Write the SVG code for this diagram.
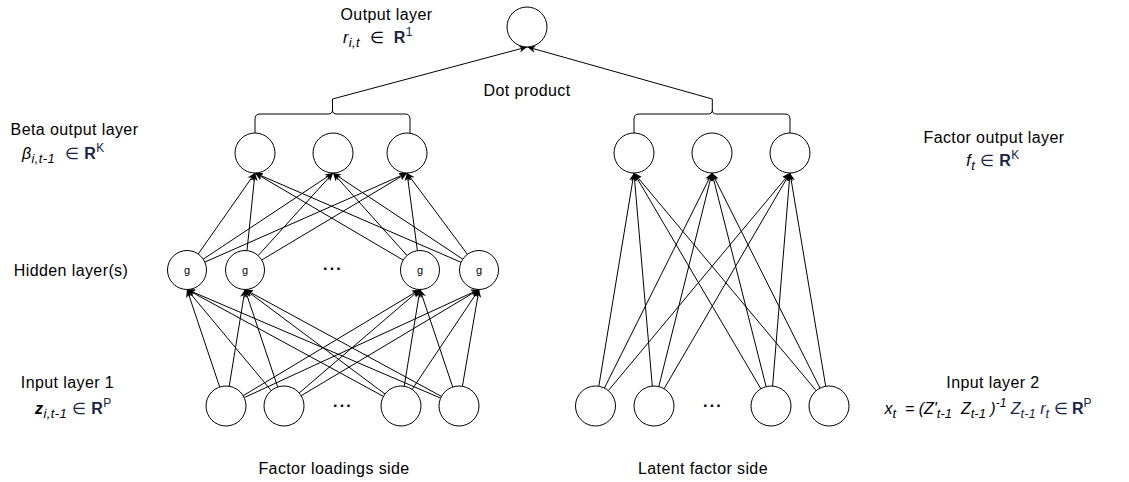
<svg xmlns="http://www.w3.org/2000/svg" width="1129" height="482" viewBox="0 0 1129 482">
<style>
text{font-family:"Liberation Sans",Arial,sans-serif;font-size:16px;fill:#000;letter-spacing:0.4px}
.i{font-style:italic}
.b{font-weight:bold}
.sub{font-size:13px}
.sup{font-size:12px}
.nv{fill:#172448}
.tight{letter-spacing:0}
.g{font-size:11px;letter-spacing:0}
.dots{font-weight:bold;font-size:16px;letter-spacing:2.2px}
circle{fill:#fff;stroke:#000;stroke-width:1}
.e line{stroke:#000;stroke-width:1;marker-end:url(#arr)}
.br{fill:none;stroke:#000;stroke-width:1}
</style>
<defs>
<marker id="arr" viewBox="0 0 10 10" refX="10" refY="5" markerWidth="8" markerHeight="8" markerUnits="userSpaceOnUse" orient="auto">
<path d="M0,0.5 L10,5 L0,9.5 L3,5 Z" fill="#000"/>
</marker>
</defs>

<g id="labels">
<text x="386.5" y="20" text-anchor="middle">Output layer</text>
<text x="343" y="43"><tspan class="i">r</tspan><tspan class="i sub" dy="4">i,t</tspan><tspan dy="-4">&#160; ∈ &#160;</tspan><tspan class="b nv">R</tspan><tspan class="sup nv" dy="-7">1</tspan></text>
<text x="527" y="96" text-anchor="middle">Dot product</text>
<text x="74.5" y="135" text-anchor="middle">Beta output layer</text>
<text x="22" y="159"><tspan class="i">β</tspan><tspan class="i sub" dy="4">i,t-1</tspan><tspan dy="-4" class="nv">&#160; ∈ </tspan><tspan class="b nv">R</tspan><tspan class="sup nv" dy="-7">K</tspan></text>
<text x="994" y="143" text-anchor="middle">Factor output layer</text>
<text x="993" y="166" text-anchor="middle"><tspan class="i">f</tspan><tspan class="i sub" dy="4">t</tspan><tspan dy="-4" class="nv"> ∈ </tspan><tspan class="b nv">R</tspan><tspan class="sup nv" dy="-7">K</tspan></text>
<text x="71" y="276" text-anchor="middle">Hidden layer(s)</text>
<text x="67.5" y="388" text-anchor="middle">Input layer 1</text>
<text x="35" y="414"><tspan class="b i">z</tspan><tspan class="i sub" dy="4">i,t-1</tspan><tspan dy="-4" class="nv"> ∈ </tspan><tspan class="b nv">R</tspan><tspan class="sup nv" dy="-7">P</tspan></text>
<text x="993" y="388" text-anchor="middle">Input layer 2</text>
<text class="tight" x="988" y="414" text-anchor="middle"><tspan class="i">x</tspan><tspan class="i sub" dy="4">t</tspan><tspan class="i" dy="-4">&#160; = (Z'</tspan><tspan class="i sub" dy="4">t-1</tspan><tspan class="i" dy="-4">&#160; Z</tspan><tspan class="i sub" dy="4">t-1</tspan><tspan class="i" dy="-4"> )</tspan><tspan class="i sup" dy="-7">-1</tspan><tspan class="i nv" dy="7"> Z</tspan><tspan class="i sub nv" dy="4">t-1</tspan><tspan class="i nv" dy="-4"> r</tspan><tspan class="i sub nv" dy="4">t</tspan><tspan dy="-4" class="nv"> ∈ </tspan><tspan class="b nv">R</tspan><tspan class="sup nv" dy="-7">P</tspan></text>
<text x="334" y="474" text-anchor="middle">Factor loadings side</text>
<text x="703" y="474" text-anchor="middle">Latent factor side</text>
</g>

<g id="connectors">
<g id="braces">
<path class="br" d="M255,133 L255,119 Q255,114 260,114 L328,114 Q332.5,114 332.5,110 L332.5,99 M332.5,110 Q332.5,114 337,114 L405,114 Q410,114 410,119 L410,133.3"/>
<path class="br" d="M634,133 L634,119 Q634,114 639,114 L708,114 Q712.3,114 712.3,110 L712.3,99 M712.3,110 Q712.3,114 716.6,114 L785,114 Q790,114 790,119 L790,133"/>
</g>
<g class="e">
<line x1="332.5" y1="99" x2="527" y2="47"/>
<line x1="712.3" y1="99" x2="527.5" y2="47"/>
<!-- hidden -> beta -->
<line x1="198.2" y1="254" x2="255" y2="173"/>
<line x1="203.2" y1="259.2" x2="333" y2="173"/>
<line x1="204.8" y1="262.1" x2="407" y2="173"/>
<line x1="247" y1="250.6" x2="255" y2="173"/>
<line x1="258.1" y1="255.6" x2="333" y2="173"/>
<line x1="261.7" y1="260" x2="407" y2="173"/>
<line x1="403.2" y1="260.1" x2="255" y2="173"/>
<line x1="407" y1="255.5" x2="333" y2="173"/>
<line x1="417.4" y1="250.7" x2="407" y2="173"/>
<line x1="461.1" y1="262.3" x2="255" y2="173"/>
<line x1="462.8" y1="259.2" x2="333" y2="173"/>
<line x1="467.4" y1="254.3" x2="407" y2="173"/>
<!-- input1 -> hidden -->
<line x1="219.7" y1="387" x2="187" y2="289.5"/>
<line x1="229.2" y1="386.3" x2="245" y2="289.5"/>
<line x1="243.1" y1="395.7" x2="420" y2="289.5"/>
<line x1="244.2" y1="397.6" x2="479" y2="289.5"/>
<line x1="271.2" y1="390.6" x2="187" y2="289.5"/>
<line x1="277.7" y1="387" x2="245" y2="289.5"/>
<line x1="299.2" y1="393" x2="420" y2="289.5"/>
<line x1="301.2" y1="395.7" x2="479" y2="289.5"/>
<line x1="383.4" y1="396.4" x2="187" y2="289.5"/>
<line x1="385" y1="394" x2="245" y2="289.5"/>
<line x1="404.2" y1="386.3" x2="420" y2="289.5"/>
<line x1="412.1" y1="389.4" x2="479" y2="289.5"/>
<line x1="440.6" y1="398.1" x2="187" y2="289.5"/>
<line x1="441.4" y1="396.4" x2="245" y2="289.5"/>
<line x1="452.7" y1="387" x2="420" y2="289.5"/>
<line x1="462.4" y1="386.3" x2="479" y2="289.5"/>
<!-- input2 -> factor -->
<line x1="598.8" y1="386.3" x2="634" y2="173"/>
<line x1="604.4" y1="388.1" x2="712" y2="173"/>
<line x1="608.3" y1="390.6" x2="790" y2="173"/>
<line x1="652.3" y1="386.1" x2="634" y2="173"/>
<line x1="658.8" y1="386.6" x2="712" y2="173"/>
<line x1="664.1" y1="388.7" x2="790" y2="173"/>
<line x1="760.9" y1="388.8" x2="634" y2="173"/>
<line x1="766.1" y1="386.6" x2="712" y2="173"/>
<line x1="772.6" y1="386.1" x2="790" y2="173"/>
<line x1="816.2" y1="390.7" x2="634" y2="173"/>
<line x1="820" y1="388.1" x2="712" y2="173"/>
<line x1="825.7" y1="386.3" x2="790" y2="173"/>
</g>
</g>

<g id="output"><circle cx="527" cy="27" r="20"/></g>
<g id="beta1"><circle cx="255" cy="153" r="20"/></g>
<g id="beta2"><circle cx="333" cy="153" r="20"/></g>
<g id="beta3"><circle cx="407" cy="153" r="20"/></g>
<g id="factor1"><circle cx="634" cy="153" r="20"/></g>
<g id="factor2"><circle cx="712" cy="153" r="20"/></g>
<g id="factor3"><circle cx="790" cy="153" r="20"/></g>
<g id="hidden1"><circle cx="187" cy="270" r="19.5"/><text class="g" x="187" y="274" text-anchor="middle">g</text></g>
<g id="hidden2"><circle cx="245" cy="270" r="19.5"/><text class="g" x="245" y="274" text-anchor="middle">g</text></g>
<g id="hidden-dots"><text class="dots" x="333" y="270" text-anchor="middle">...</text></g>
<g id="hidden3"><circle cx="420" cy="270" r="19.5"/><text class="g" x="420" y="274" text-anchor="middle">g</text></g>
<g id="hidden4"><circle cx="479" cy="270" r="19.5"/><text class="g" x="479" y="274" text-anchor="middle">g</text></g>
<g id="in1-1"><circle cx="226" cy="406" r="20"/></g>
<g id="in1-2"><circle cx="284" cy="406" r="20"/></g>
<g id="in1-dots"><text class="dots" x="343" y="407" text-anchor="middle">...</text></g>
<g id="in1-3"><circle cx="401" cy="406" r="20"/></g>
<g id="in1-4"><circle cx="459" cy="406" r="20"/></g>
<g id="in2-1"><circle cx="595.5" cy="406" r="20"/></g>
<g id="in2-2"><circle cx="654" cy="406" r="20"/></g>
<g id="in2-dots"><text class="dots" x="713" y="407" text-anchor="middle">...</text></g>
<g id="in2-3"><circle cx="771" cy="406" r="20"/></g>
<g id="in2-4"><circle cx="829" cy="406" r="20"/></g>
</svg>
